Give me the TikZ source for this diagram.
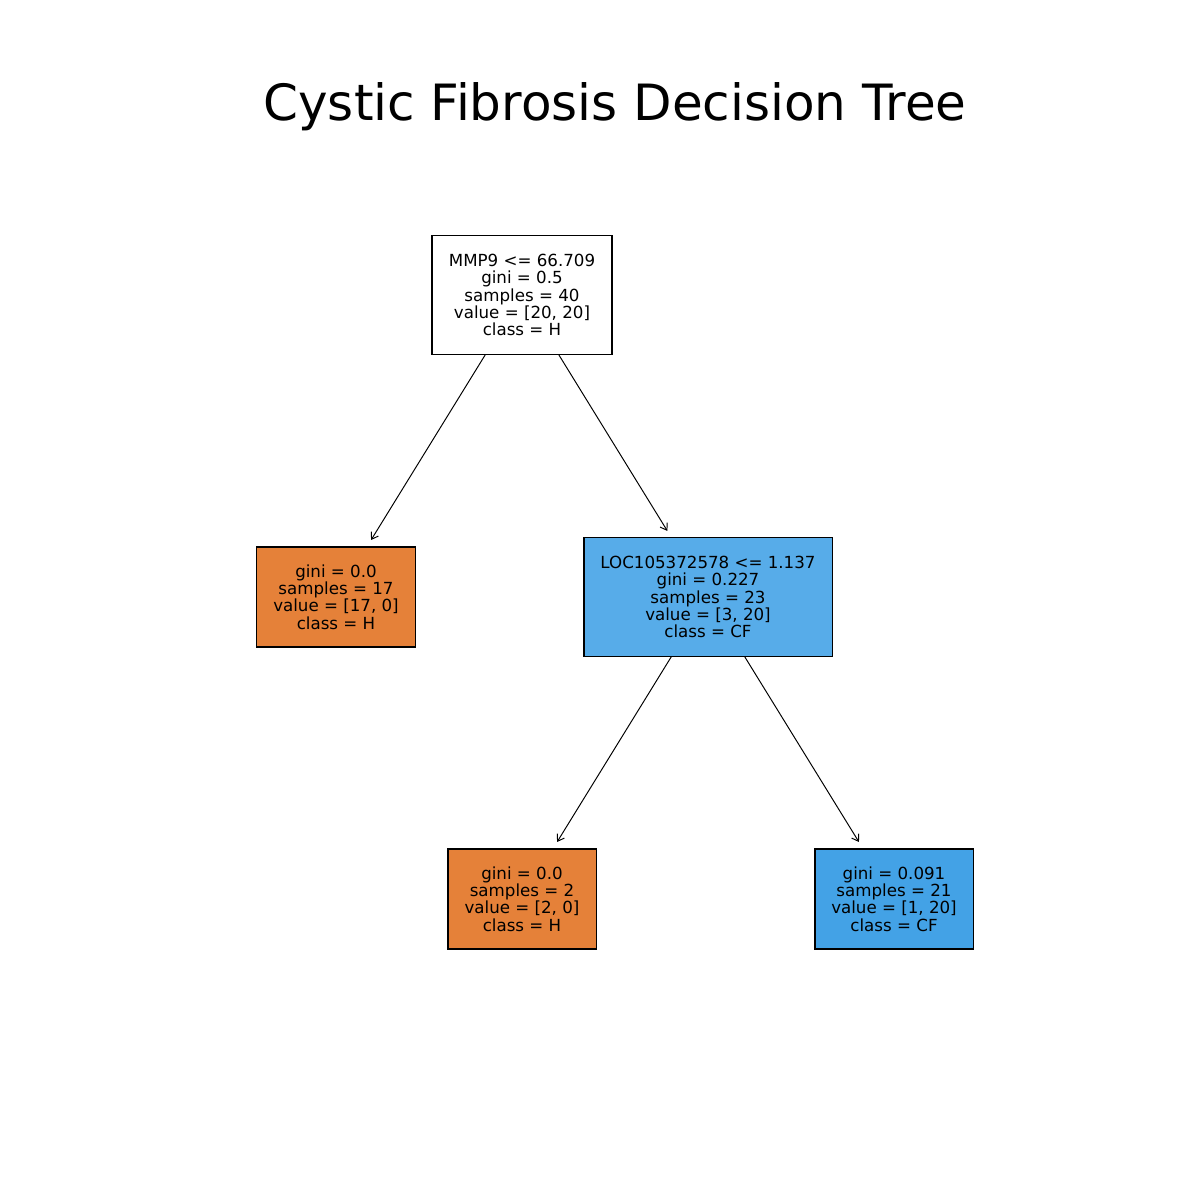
\documentclass[tikz,border=0pt]{standalone}
\usepackage{fontspec}
\setmainfont{DejaVu Sans}
\usetikzlibrary{arrows.meta}
\definecolor{cforange}{RGB}{229,129,57}
\definecolor{cfblueA}{RGB}{87,172,233}
\definecolor{cfblueB}{RGB}{67,162,230}
\tikzset{
  treebox/.style={draw=black, line width=0.75pt, inner sep=0pt, align=center,
    font=\fontsize{12}{12.5}\selectfont},
  edge/.style={draw=black, line width=0.7pt, shorten >=5.5pt,
    -{Straight Barb[length=4.5pt,width=6pt,line width=0.7pt]}},
}
\begin{document}
\begin{tikzpicture}[x=0.72pt,y=-0.72pt]
\useasboundingbox[fill=white] (0,0) rectangle (1200,1200);
\node[font=\fontsize{36}{40}\selectfont, anchor=base] (title) at (615,121) {Cystic Fibrosis Decision Tree};
\node[treebox, fill=white, minimum width=129.6pt, minimum height=85pt] (root) at (522,295)
  {MMP9 <= 66.709\\gini = 0.5\\samples = 40\\value = [20, 20]\\class = H};
\node[treebox, fill=cforange, minimum width=113.8pt, minimum height=72pt] (left) at (336,597)
  {gini = 0.0\\samples = 17\\value = [17, 0]\\class = H};
\node[treebox, fill=cfblueA, minimum width=178.6pt, minimum height=85pt] (right) at (708,597)
  {LOC105372578 <= 1.137\\gini = 0.227\\samples = 23\\value = [3, 20]\\class = CF};
\node[treebox, fill=cforange, minimum width=106.6pt, minimum height=72pt] (bl) at (522,899)
  {gini = 0.0\\samples = 2\\value = [2, 0]\\class = H};
\node[treebox, fill=cfblueB, minimum width=113.8pt, minimum height=72pt] (br) at (894,899)
  {gini = 0.091\\samples = 21\\value = [1, 20]\\class = CF};
\draw[edge] (root) -- (left);
\draw[edge] (root) -- (right);
\draw[edge] (right) -- (bl);
\draw[edge] (right) -- (br);
\end{tikzpicture}
\end{document}
